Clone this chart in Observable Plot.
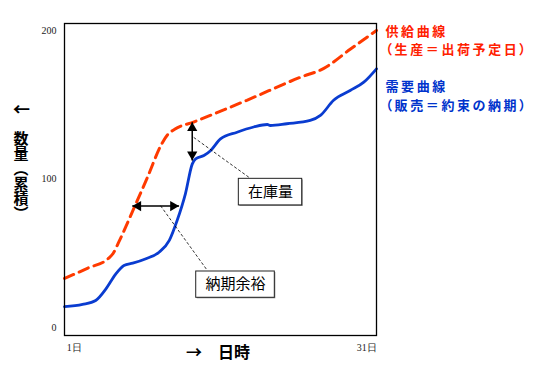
<!DOCTYPE html>
<html><head><meta charset="utf-8">
<script src="https://cdn.jsdelivr.net/npm/d3@7"></script>
<script src="https://cdn.jsdelivr.net/npm/@observablehq/plot@0.6"></script>
<style>body{margin:0;background:#fff;}</style>
</head><body><div id="chart"></div>
<script>
// Supply curve (cumulative, production = planned shipping date)
const supplyDay = [0, 2.4, 4.5, 5.0, 5.6, 7.1, 8.5, 10.0, 10.6, 11.3, 13.3, 18.7, 24.2, 26.6, 29.3, 32];
const supplyQty = [33, 40, 46.5, 50, 58, 80, 101, 124, 130, 133.5, 138.5, 153, 168.5, 174.5, 187.3, 200];
// Demand curve (cumulative, sales = promised delivery date)
const demandDay = [0, 1.85, 3.2, 4.25, 5.25, 6.1, 7.0, 8.35, 9.7, 10.75, 11.55, 12.4, 13.1, 13.45, 14.3, 15.0, 16.0, 17.7, 19.4, 20.8, 21.1, 22.8, 25.2, 26.25, 27.6, 29.3, 30.7, 32];
const demandQty = [14, 15.5, 18.2, 26, 36, 41.8, 43.3, 46.3, 50.7, 58.6, 72, 90, 110, 113.6, 115.8, 119.2, 127, 131.5, 135, 136.7, 136, 137.2, 139.4, 142.8, 153, 159.6, 165.2, 174.2];
// Axis ticks
const yTicks = [0, 100, 200];
const xTicks = [1, 31];
// Labels
const seriesNames = ["供給曲線", "需要曲線"];
const seriesNotes = ["（生産＝出荷予定日）", "（販売＝約束の納期）"];
const yLabel = "数量（累積）";
const yArrow = "←";
const xLabel = "→　日時";
const stockLabel = "在庫量";
const leadLabel = "納期余裕";

const RED = "#ff3a00", BLUE = "#0a3cd0";
const JP = "Noto Sans CJK JP";

const supply = supplyDay.map((d, i) => ({day: d, qty: supplyQty[i]}));
const demand = demandDay.map((d, i) => ({day: d, qty: demandQty[i]}));

// annotation geometry (data units)
const stockArrow = {x: 13.1, top: 138.2, bottom: 112.5};
const leadArrow = {y: 81.8, left: 6.95, right: 11.75};
const leaders = [
  {x1: 13.25, y1: 128, x2: 18.9, y2: 101.2},
  {x1: 9.85, y1: 82, x2: 14.65, y2: 38.4}
];
const boxes = [
  {x1: 17.88, x2: 24.38, y1: 82.2, y2: 100.1, label: stockLabel},
  {x1: 13.51, x2: 21.57, y1: 20.0, y2: 37.7, label: leadLabel}
];
const R = 3.8;
const HEAD = 2 * Math.sqrt(Math.PI * R * R / (3 * Math.sqrt(3)));

const chart = Plot.plot({
  width: 556,
  height: 376,
  marginLeft: 64,
  marginRight: 180,
  marginTop: 23,
  marginBottom: 41,
  x: {domain: [0, 32]},
  y: {domain: [-5.4, 204.7]},
  style: {fontFamily: "Liberation Serif", fontSize: "10px", color: "#222", background: "#fff"},
  marks: [
    Plot.axisY({ticks: yTicks, tickSize: 0, tickPadding: 8, label: null, fontSize: 10, fontFamily: "Liberation Serif"}),
    Plot.axisX({ticks: xTicks, tickFormat: d => d + "日", tickSize: 0, tickPadding: 8, label: null, fontSize: 10, fontFamily: "Liberation Serif"}),
    Plot.line(supply, {x: "day", y: "qty", stroke: RED, strokeWidth: 3, strokeDasharray: "10,6", curve: "monotone-x"}),
    Plot.line(demand, {x: "day", y: "qty", stroke: BLUE, strokeWidth: 2.8, curve: "monotone-x"}),
    Plot.frame({stroke: "#000", strokeWidth: 1.3}),
    // leader lines
    Plot.link(leaders, {x1: "x1", y1: "y1", x2: "x2", y2: "y2", stroke: "#000", strokeWidth: 0.8, strokeDasharray: "3,2"}),
    // stock (vertical) double arrow
    Plot.link([stockArrow], {x1: "x", x2: "x", y1: "top", y2: "bottom", stroke: "#000", strokeWidth: 1.5}),
    Plot.dot([stockArrow], {x: "x", y: "top", symbol: "triangle", r: R, fill: "#000", dy: HEAD}),
    Plot.dot([stockArrow], {x: "x", y: "bottom", symbol: "triangle", r: R, fill: "#000", rotate: 180, dy: -HEAD}),
    // lead-time (horizontal) double arrow
    Plot.link([leadArrow], {x1: "left", x2: "right", y1: "y", y2: "y", stroke: "#000", strokeWidth: 1.5}),
    Plot.dot([leadArrow], {x: "left", y: "y", symbol: "triangle", r: R, fill: "#000", rotate: -90, dx: HEAD}),
    Plot.dot([leadArrow], {x: "right", y: "y", symbol: "triangle", r: R, fill: "#000", rotate: 90, dx: -HEAD}),
    // callout boxes
    Plot.rect(boxes, {x1: "x1", x2: "x2", y1: "y1", y2: "y2", fill: "#888", dx: 1, dy: 1}),
    Plot.rect(boxes, {x1: "x1", x2: "x2", y1: "y1", y2: "y2", fill: "#fff", stroke: "#222", strokeWidth: 1}),
    Plot.text(boxes, {x: d => (d.x1 + d.x2) / 2, y: d => (d.y1 + d.y2) / 2, text: "label", fontFamily: JP, fontSize: 15, fill: "#000"}),
    // right-hand series labels (name + note, two lines each)
    Plot.text([seriesNames[0] + "\n" + seriesNotes[0]], {text: d => d, frameAnchor: "top-right", textAnchor: "start", dx: 9, dy: -1.25, lineHeight: 1.45, fill: "#ff2000", fontFamily: JP, fontSize: 13, fontWeight: "bold"}),
    Plot.text([seriesNames[1] + "\n" + seriesNotes[1]], {text: d => d, frameAnchor: "top-right", textAnchor: "start", dx: 9, dy: 54.5, lineHeight: 1.45, fill: "#0033cc", fontFamily: JP, fontSize: 13, fontWeight: "bold"}),
    // y axis label (vertical writing)
    Plot.text([yArrow], {text: d => d, frameAnchor: "left", textAnchor: "middle", dx: -43, dy: -69, fill: "#000", fontFamily: JP, fontSize: 17, fontWeight: "bold"}),
    Plot.text([yLabel], {text: d => d, frameAnchor: "top-left", textAnchor: "start", dx: -43.5, dy: 97, fill: "#000", fontFamily: JP, fontSize: 15, fontWeight: "bold"}),
    // x axis label
    Plot.text([xLabel], {text: d => d, frameAnchor: "bottom", dx: -2.5, dy: 22, fill: "#000", fontFamily: JP, fontSize: 16, fontWeight: "bold"})
  ]
});
const sel = d3.select(chart).selectAll("text");
sel.filter(function () { return this.textContent === yLabel; })
  .attr("dy", null)
  .style("writing-mode", "vertical-rl")
  .style("dominant-baseline", "central");
sel.filter(function () { return this.textContent.includes("曲線"); })
  .style("font-feature-settings", "'palt' 1")
  .style("letter-spacing", "2.6px");
document.getElementById("chart").append(chart);
</script></body></html>
